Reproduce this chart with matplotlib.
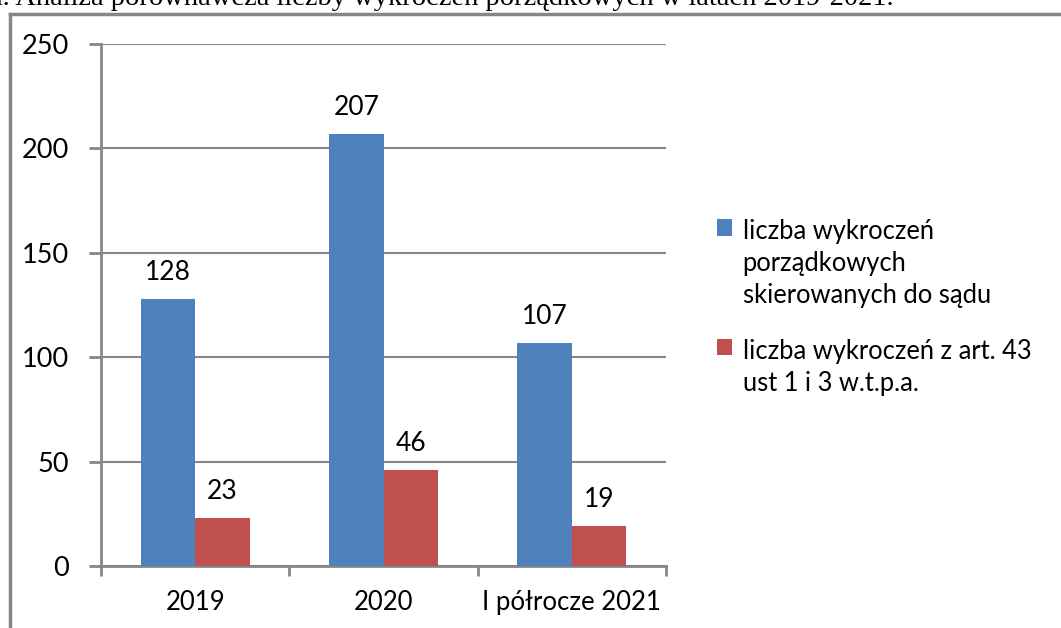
import matplotlib.pyplot as plt
import numpy as np
from matplotlib.lines import Line2D

# dane
categories = ['2019', '2020', 'I półrocze 2021']
skierowane = [128, 207, 107]
art43 = [23, 46, 19]
series_labels = ['liczba wykroczeń\nporządkowych\nskierowanych do sądu',
                 'liczba wykroczeń z art. 43\nust 1 i 3 w.t.p.a.']
y_ticks = [0, 50, 100, 150, 200, 250]

blue = '#4f81bd'
red = '#c0504d'
grey = '#868686'

plt.rcParams['font.family'] = ['Lato', 'DejaVu Sans']

fig = plt.figure(figsize=(10.61, 6.28), dpi=100)
ax = fig.add_axes([101 / 1061, 62 / 628, 565 / 1061, 522 / 628])

x = np.arange(len(categories))
w = 0.29
b1 = ax.bar(x - w / 2, skierowane, w, color=blue, label=series_labels[0], zorder=3)
b2 = ax.bar(x + w / 2, art43, w, color=red, label=series_labels[1], zorder=3)

for bars in (b1, b2):
    for rect in bars:
        ax.annotate(f'{int(rect.get_height())}',
                    (rect.get_x() + rect.get_width() / 2, rect.get_height()),
                    xytext=(0, 10), textcoords='offset points',
                    ha='center', va='bottom', fontsize=19)

ax.set_xlim(-0.5, len(categories) - 0.5)
ax.set_ylim(0, 250)
ax.set_yticks(y_ticks)
ax.set_xticks(x)
ax.set_xticklabels(categories)
ax.set_xticks(np.arange(len(categories) + 1) - 0.5, minor=True)
ax.tick_params(axis='x', which='major', length=0, pad=17, labelsize=18.5)
ax.tick_params(axis='x', which='minor', length=7, color=grey, width=2)
ax.tick_params(axis='y', length=9, color=grey, width=2, pad=14, labelsize=19.5)
ax.yaxis.grid(True, color=grey, linewidth=1.5, zorder=0)
for s in ('top', 'right'):
    ax.spines[s].set_visible(False)
for s in ('left', 'bottom'):
    ax.spines[s].set_color(grey)
    ax.spines[s].set_linewidth(2)

leg = ax.legend(loc='center left', bbox_to_anchor=((717 - 101) / 565, 0.495), frameon=False,
                fontsize=18.4, handlelength=0.6, handleheight=0.6, handletextpad=0.4,
                labelspacing=1.2, borderpad=0, borderaxespad=0)
for t in leg.get_texts():
    t.set_linespacing(1.35)
# kwadracik przy pierwszej linii opisu
for col in leg._legend_handle_box.get_children():
    for hp in col.get_children():
        hp.align = 'top'

# ramka wokół wykresu
fig.add_artist(Line2D([10 / 1061, 10 / 1061], [0, 1 - 14 / 628], color=grey, linewidth=2.5))
fig.add_artist(Line2D([10 / 1061, 1], [1 - 14 / 628, 1 - 14 / 628], color=grey, linewidth=2.5))

# obcięty podpis nad wykresem
fig.text(-10 / 1061, 1 - 5 / 628, 'a. Analiza porównawcza liczby wykroczeń porządkowych w latach 2019-2021.',
         family='Liberation Serif', fontsize=20.5, va='baseline', ha='left')

fig.savefig('out.png', dpi=100)
